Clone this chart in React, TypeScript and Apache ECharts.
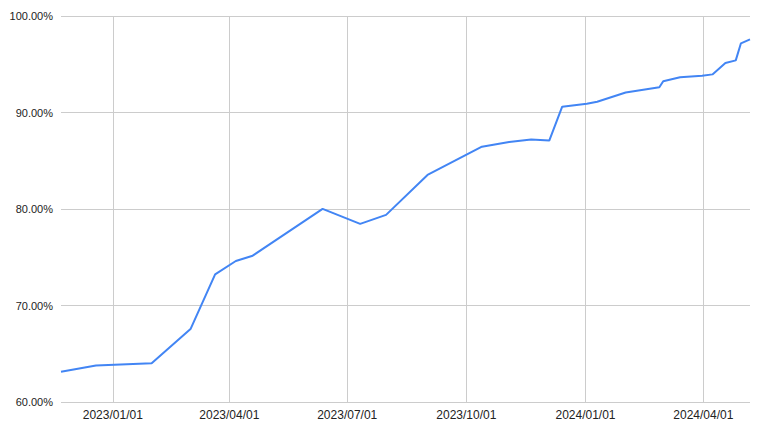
import { useEffect, useRef } from 'react';
import * as echarts from 'echarts';

// dates of each reading and the matching share, in percent
const dates = [
  '2022/11/22', '2022/12/19', '2023/01/31', '2023/03/02', '2023/03/21', '2023/04/06',
  '2023/04/19', '2023/06/12', '2023/07/11', '2023/07/31', '2023/09/01', '2023/10/13',
  '2023/11/03', '2023/11/20', '2023/12/04', '2023/12/14', '2024/01/02', '2024/01/10',
  '2024/02/01', '2024/02/27', '2024/03/01', '2024/03/14', '2024/03/31', '2024/04/08',
  '2024/04/18', '2024/04/26', '2024/04/30', '2024/05/07',
];

const values = [
  63.14, 63.79, 64.02, 67.56, 73.23, 74.61,
  75.16, 80.01, 78.46, 79.39, 83.53, 86.46,
  86.95, 87.19, 87.09, 90.6, 90.91, 91.12,
  92.07, 92.61, 93.24, 93.66, 93.8, 93.95,
  95.12, 95.4, 97.17, 97.57,
];

const xTicks = ['2023/01/01', '2023/04/01', '2023/07/01', '2023/10/01', '2024/01/01', '2024/04/01'];

function toTime(s: string) {
  const [y, m, d] = s.split('/').map(Number);
  return new Date(y, m - 1, d).getTime();
}

function fmtDate(v: number) {
  const d = new Date(v);
  const mm = String(d.getMonth() + 1).padStart(2, '0');
  const dd = String(d.getDate()).padStart(2, '0');
  return `${d.getFullYear()}/${mm}/${dd}`;
}

export default function App() {
  const ref = useRef<HTMLDivElement>(null);

  useEffect(() => {
    document.body.style.margin = '0';
    if (!ref.current) return;
    const chart = echarts.init(ref.current, undefined, { renderer: 'svg' });
    const tickTimes = xTicks.map(toTime);

    // value axis holding timestamps, so the quarter ticks can be placed exactly
    chart.setOption({
      animation: false,
      textStyle: { fontFamily: '"Liberation Sans", Arial, sans-serif' },
      grid: { left: 61, right: 16, top: 16, bottom: 32 },
      xAxis: {
        type: 'value',
        min: toTime(dates[0]),
        max: toTime(dates[dates.length - 1]),
        axisLine: { show: false },
        axisTick: { show: false, customValues: tickTimes },
        axisLabel: {
          customValues: tickTimes,
          formatter: (v: number) => fmtDate(v),
          color: '#222',
          fontSize: 12,
          margin: 7,
        },
        splitLine: { show: true, lineStyle: { color: '#cccccc', width: 1 } },
      },
      yAxis: {
        type: 'value',
        min: 60,
        max: 100,
        interval: 10,
        axisLine: { show: false },
        axisTick: { show: false },
        axisLabel: {
          formatter: (v: number) => v.toFixed(2) + '%',
          color: '#222',
          fontSize: 11,
          margin: 8,
        },
        splitLine: { lineStyle: { color: '#cccccc', width: 1 } },
      },
      series: [
        {
          type: 'line',
          data: dates.map((d, i) => [toTime(d), values[i]]),
          showSymbol: false,
          lineStyle: { color: '#4285f4', width: 2 },
          itemStyle: { color: '#4285f4' },
        },
      ],
    });

    return () => chart.dispose();
  }, []);

  return <div ref={ref} style={{ width: 766, height: 434 }} />;
}
